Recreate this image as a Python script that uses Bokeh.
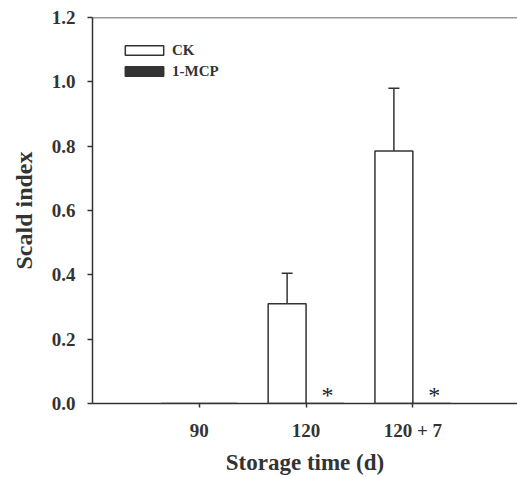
from bokeh.plotting import figure
from bokeh.models import (FixedTicker, Whisker, ColumnDataSource, TeeHead, Span,
                          Range1d, NumeralTickFormatter, Legend, LegendItem)
from bokeh.transform import dodge
from bokeh.embed import file_html
from bokeh.resources import INLINE
from bokeh.core.properties import value

# ---- data ----
categories = ["90", "120", "120 + 7"]
ck_values = [0.0, 0.31, 0.785]
ck_errors = [0.0, 0.095, 0.195]
mcp_values = [0.0, 0.0, 0.0]
significance = ["", "*", "*"]
y_ticks = [0.0, 0.2, 0.4, 0.6, 0.8, 1.0, 1.2]

FONT = "Liberation Serif"
INK = "#333333"
OFF = 0.1775
BW = 0.355

xpos = [i + 1 for i in range(len(categories))]

p = figure(width=517, height=477, output_backend="svg", toolbar_location=None,
           x_range=Range1d(0, 3.98), y_range=Range1d(0, 1.2))
p.min_border_left = 92
p.min_border_top = 17
p.min_border_right = 0
p.min_border_bottom = 72
p.outline_line_color = None
p.xgrid.grid_line_color = None
p.ygrid.grid_line_color = None
p.background_fill_color = "white"
p.border_fill_color = "white"

src = ColumnDataSource(dict(x=xpos, ck=ck_values, mcp=mcp_values, sig=significance))

r_ck = p.vbar(x=dodge("x", -OFF, range=p.x_range), top="ck", width=BW, source=src,
              fill_color="white", line_color=INK, line_width=1.5)
r_mcp = p.vbar(x=dodge("x", OFF, range=p.x_range), top="mcp", width=BW, source=src,
               fill_color=INK, line_color=INK, line_width=1.5)

# error bars (upper only)
ex = [x for x, e in zip(xpos, ck_errors) if e > 0]
elo = [v for v, e in zip(ck_values, ck_errors) if e > 0]
ehi = [v + e for v, e in zip(ck_values, ck_errors) if e > 0]
esrc = ColumnDataSource(dict(x=ex, lower=elo, upper=ehi))
w = Whisker(base=dodge("x", -OFF, range=p.x_range), lower="lower", upper="upper", source=esrc,
            line_color=INK, line_width=1.5, lower_head=None,
            upper_head=TeeHead(size=11, line_color=INK, line_width=1.5))
p.add_layout(w)

# significance asterisks
p.text(x=dodge("x", 0.2, range=p.x_range), y=0, text="sig", source=src,
       text_font=value(FONT), text_font_size="24px", text_color="#222222",
       text_align="center", text_baseline="alphabetic", y_offset=-9)

# top border
p.add_layout(Span(location=1.2, dimension="width", line_color=INK, line_width=1.5))

# axes
for ax in (p.xaxis[0], p.yaxis[0]):
    ax.axis_line_color = INK
    ax.axis_line_width = 1.5
    ax.major_tick_line_color = INK
    ax.major_tick_line_width = 1.5
    ax.minor_tick_line_color = None
    ax.major_tick_in = 0
    ax.major_label_text_font = FONT
    ax.major_label_text_font_style = "bold"
    ax.major_label_text_font_size = "19px"
    ax.major_label_text_color = INK
    ax.axis_label_text_font = FONT
    ax.axis_label_text_font_style = "bold"
    ax.axis_label_text_color = INK

p.yaxis.ticker = FixedTicker(ticks=y_ticks)
p.yaxis.formatter = NumeralTickFormatter(format="0.0")
p.yaxis.major_tick_out = 5
p.yaxis.major_label_standoff = 12
p.yaxis.axis_label = "Scald index"
p.yaxis.axis_label_text_font_size = "24px"
p.yaxis.axis_label_standoff = 12

p.xaxis.ticker = FixedTicker(ticks=xpos)
p.xaxis.major_label_overrides = {x: c for x, c in zip(xpos, categories)}
p.xaxis.major_tick_out = 4
p.xaxis.major_label_standoff = 12
p.xaxis.axis_label = "Storage time (d)"
p.xaxis.axis_label_text_font_size = "23px"
p.xaxis.axis_label_standoff = 6

# legend
legend = Legend(items=[LegendItem(label="CK", renderers=[r_ck]),
                       LegendItem(label="1-MCP", renderers=[r_mcp])],
                location=(28, 323))
legend.margin = 0
legend.padding = 0
legend.spacing = 3
legend.glyph_width = 48
legend.glyph_height = 12
legend.label_height = 18
legend.label_standoff = 4
legend.label_text_font = FONT
legend.label_text_font_style = "bold"
legend.label_text_font_size = "15px"
legend.label_text_color = INK
legend.border_line_color = None
legend.background_fill_alpha = 0
p.add_layout(legend)

open("out.html", "w").write(file_html(p, INLINE))
